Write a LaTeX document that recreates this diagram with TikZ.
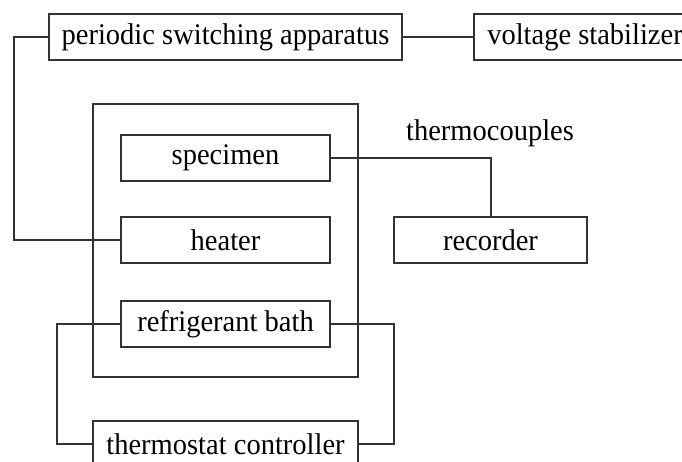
\documentclass[tikz,border=0pt]{standalone}
\usepackage{fontspec}
\setmainfont[FakeStretch=0.95]{Liberation Serif}
\begin{document}
\begin{tikzpicture}[x=1pt,y=-1pt,
  box/.style={draw=black!80, line width=1.3pt, inner sep=0pt, minimum height=46pt, font=\fontsize{30}{34}\selectfont, text=black},
  lbl/.style={inner sep=0pt, font=\fontsize{30}{34}\selectfont, text=black},
  wire/.style={draw=black!80, line width=1.3pt}]
\useasboundingbox (0,0) rectangle (682,461);
% outer enclosure
\node[draw=black!80, line width=1.3pt, minimum width=265pt, minimum height=273pt, inner sep=0pt] (outer) at (225.5,240.5) {};
\node[box, minimum width=353pt] (psa) at (225.5,37) {periodic switching apparatus};
\node[box, minimum width=222pt] (vs) at (585,37) {voltage stabilizer};
\node[box, minimum width=209pt] (spec) at (225.5,158) {specimen};
\node[box, minimum width=209pt] (heat) at (225.5,240) {heater};
\node[box, minimum width=209pt] (bath) at (225.5,324) {refrigerant bath};
\node[box, minimum width=193pt] (rec) at (490.5,240) {recorder};
\node[box, minimum width=265pt] (thc) at (225.5,444) {thermostat controller};
\node[lbl] (tc) at (490,133) {thermocouples};
\coordinate (k) at (491,158);
\draw[wire] (psa) -- (vs);
\draw[wire] (psa.west) -- (14,37) |- (heat.west);
\draw[wire] (spec.east) -- (k) -- (rec.north -| k);
\draw[wire] (bath.west) -- (57,324) |- (thc.west);
\draw[wire] (bath.east) -- (394,324) |- (thc.east);
\end{tikzpicture}
\end{document}
